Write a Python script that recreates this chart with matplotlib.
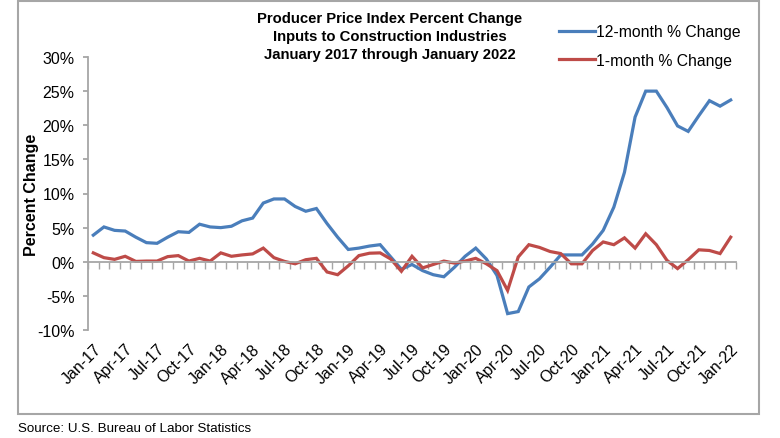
import numpy as np
import matplotlib.pyplot as plt
from matplotlib.patches import Rectangle
import matplotlib.transforms as mtransforms

plt.rcParams['font.family'] = ['Liberation Sans', 'DejaVu Sans']

# monthly values, Jan-17 .. Jan-22
months = ['Jan-17', 'Apr-17', 'Jul-17', 'Oct-17', 'Jan-18', 'Apr-18', 'Jul-18', 'Oct-18',
          'Jan-19', 'Apr-19', 'Jul-19', 'Oct-19', 'Jan-20', 'Apr-20', 'Jul-20', 'Oct-20',
          'Jan-21', 'Apr-21', 'Jul-21', 'Oct-21', 'Jan-22']
yoy = [3.9, 5.1, 4.6, 4.5, 3.6, 2.8, 2.7, 3.6, 4.4, 4.3, 5.5, 5.1, 5.0, 5.2, 6.0, 6.4,
       8.6, 9.2, 9.2, 8.1, 7.4, 7.8, 5.6, 3.6, 1.8, 2.0, 2.3, 2.5, 0.7, -1.1, -0.4, -1.3,
       -1.9, -2.2, -0.8, 0.8, 2.0, 0.4, -2.0, -7.6, -7.3, -3.7, -2.5, -0.8, 1.0, 1.0,
       1.0, 2.6, 4.6, 8.0, 13.1, 21.2, 25.0, 25.0, 22.6, 19.9, 19.1, 21.4, 23.6, 22.8, 23.7]
mom = [1.3, 0.6, 0.35, 0.8, 0.05, 0.1, 0.1, 0.75, 0.9, 0.1, 0.5, 0.1, 1.3, 0.8, 1.0, 1.15,
       2.0, 0.6, 0.05, -0.3, 0.3, 0.5, -1.5, -1.9, -0.6, 0.9, 1.25, 1.3, 0.4, -1.4, 0.8,
       -0.9, -0.4, 0.1, -0.2, 0.1, 0.5, -0.3, -1.3, -4.2, 0.7, 2.5, 2.1, 1.5, 1.2, -0.3,
       -0.3, 1.65, 2.9, 2.5, 3.5, 2.0, 4.1, 2.5, 0.2, -1.0, 0.3, 1.75, 1.65, 1.2, 3.6]
yticks = [-10, -5, 0, 5, 10, 15, 20, 25, 30]

x = np.arange(len(yoy))

fig = plt.figure(figsize=(7.8, 4.39), dpi=100)
ax = fig.add_axes([88 / 780, 108 / 439, 648 / 780, 273 / 439])

blue = '#4a7ebb'
red = '#be4b48'
grey = '#a6a6a6'

ax.plot(x, yoy, color=blue, lw=2.3, label='12-month % Change', solid_joinstyle='miter')
ax.plot(x, mom, color=red, lw=2.3, label='1-month % Change', solid_joinstyle='miter')

ax.set_xlim(-0.5, len(yoy) - 0.5)
ax.set_ylim(-10, 30)

# axes / spines
for s in ['top', 'right']:
    ax.spines[s].set_visible(False)
ax.spines['left'].set_color(grey)
ax.spines['left'].set_linewidth(1.3)
ax.spines['bottom'].set_position(('data', 0))
ax.spines['bottom'].set_color(grey)
ax.spines['bottom'].set_linewidth(1.3)

ax.set_yticks(yticks)
ax.set_yticklabels([f'{v}%' for v in yticks], fontsize=11.5)
ax.tick_params(axis='y', direction='out', length=3.6, width=1.3, color=grey, pad=6)

# month boundary ticks on the zero line
ax.set_xticks(np.arange(-0.5, len(yoy), 1.0))
ax.set_xticklabels([])
ax.tick_params(axis='x', direction='out', length=5, width=1, color=grey)

trans = mtransforms.blended_transform_factory(ax.transData, ax.transAxes)
for i, m in enumerate(months):
    ax.text(i * 3, -0.04, m, transform=trans, rotation=45, rotation_mode='anchor',
            ha='right', va='top', fontsize=11.5)

ax.set_ylabel('Percent Change', fontsize=11.5, fontweight='bold')
ax.yaxis.set_label_coords(-0.0756, 0.5)

fig.text(0.5, 1 - 12 / 439, 'Producer Price Index Percent Change\nInputs to Construction Industries\n'
         'January 2017 through January 2022', ha='center', va='top', fontsize=10.7,
         fontweight='bold', linespacing=1.38)

ax.legend(loc='upper left', bbox_to_anchor=(553 / 780, 1 - 19 / 439), bbox_transform=fig.transFigure,
          frameon=False, fontsize=11.3, handlelength=2.3, handletextpad=0.05,
          labelspacing=0.85, borderaxespad=0)

fig.text(18 / 780, 1 - 429 / 439, 'Source: U.S. Bureau of Labor Statistics', ha='left',
         va='center', fontsize=9.6)

fig.patches.append(Rectangle((18 / 780, 1 - 415 / 439), 741 / 780, 413 / 439,
                             transform=fig.transFigure, fill=False, ec=grey, lw=1.5))

fig.savefig('out.png', dpi=100)
